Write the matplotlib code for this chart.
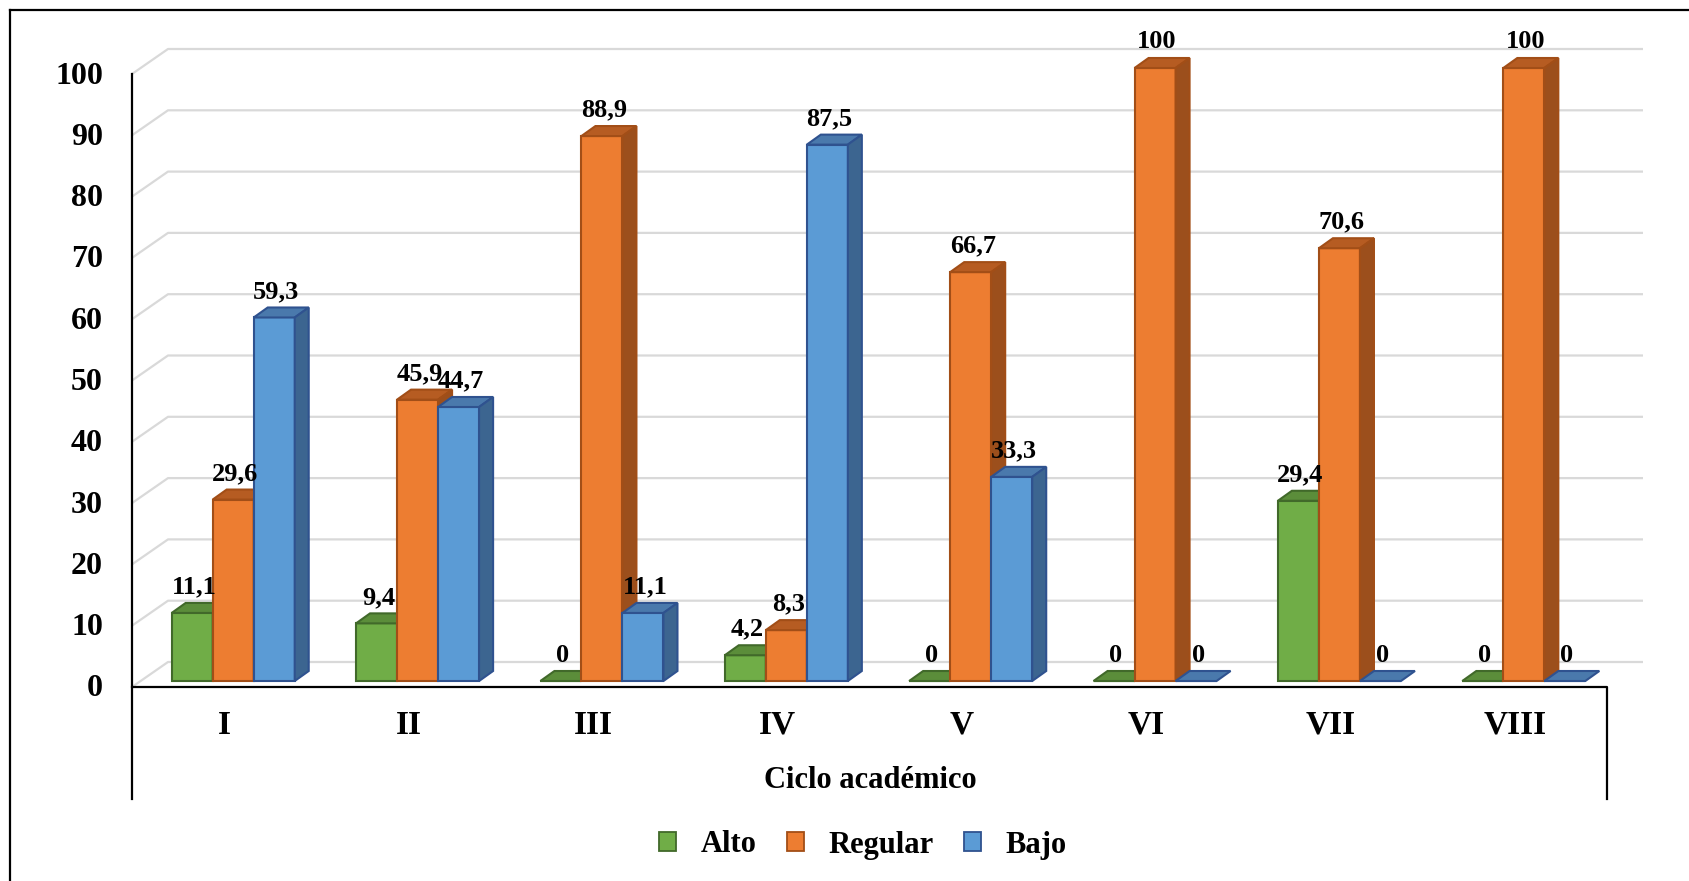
import numpy as np
import matplotlib
matplotlib.use("Agg")
import matplotlib.pyplot as plt
from matplotlib.patches import Polygon, Patch
from matplotlib.lines import Line2D
from matplotlib.transforms import ScaledTranslation

# data (percent per ciclo)
ciclos = ["I", "II", "III", "IV", "V", "VI", "VII", "VIII"]
alto = [11.1, 9.4, 0, 4.2, 0, 0, 29.4, 0]
regular = [29.6, 45.9, 88.9, 8.3, 66.7, 100, 70.6, 100]
bajo = [59.3, 44.7, 11.1, 87.5, 33.3, 0, 0, 0]
series_names = ["Alto", "Regular", "Bajo"]
y_ticks = list(range(0, 101, 10))

# front / top / side / edge colours per series (Excel 3D look)
styles = [
    ("#70AD47", "#5B8D3A", "#4E7B31", "#41692A"),
    ("#ED7D31", "#B65C22", "#9C4F1C", "#A24E17"),
    ("#5B9BD5", "#4A79AC", "#3C6590", "#2F528F"),
]

plt.rcParams["font.family"] = ["Liberation Serif", "DejaVu Serif"]
plt.rcParams["font.weight"] = "bold"

W, H = 1689, 881
fig = plt.figure(figsize=(W / 100, H / 100), dpi=100)
ax = fig.add_axes([141 / W, (H - 681) / H, 1475 / W, 613 / H])
ax.set_xlim(-0.5, len(ciclos) - 0.5)
ax.set_ylim(0, 100)
ax.axis("off")

# pixel offsets of the pseudo 3D box, relative to the bar plane
BAR_D = (14, 10)     # bar depth
BACK = (27, 19)      # back wall
FRONT = (-9, -6)     # front edge of the floor


def shift(xs, ys, d):
    pts = ax.transData.transform(np.column_stack([xs, ys]))
    pts = pts + np.array(d, dtype=float)
    return ax.transData.inverted().transform(pts)


x0, x1 = -0.5, len(ciclos) - 0.5

# gridlines on the back wall and the left side wall
for v in y_ticks:
    f = shift([x0], [v], FRONT)[0]
    b = shift([x0, x1], [v, v], BACK)
    ax.plot([f[0], b[0, 0], b[1, 0]], [f[1], b[0, 1], b[1, 1]],
            color="#D9D9D9", lw=1.6, zorder=0, clip_on=False,
            solid_capstyle="butt")

# bars: front face via ax.bar, top and side faces derived from it
x = np.arange(len(ciclos))
width = 0.2225
all_series = [alto, regular, bajo]
for gi in range(len(ciclos)):
    for si, vals in enumerate(all_series):
        front, top, side, edge = styles[si]
        xc = x[gi] + (si - 1) * width
        h = vals[gi]
        z = 2 + gi * 3 + si
        rect = ax.bar(xc, h, width=width, color=front, edgecolor=edge,
                      linewidth=1.5, zorder=z, clip_on=False)[0]
        xl, xr = rect.get_x(), rect.get_x() + rect.get_width()
        tb = shift([xr, xl], [h, h], BAR_D)
        top_poly = [(xl, h), (xr, h), tuple(tb[0]), tuple(tb[1])]
        ax.add_patch(Polygon(top_poly, closed=True, facecolor=top, edgecolor=edge,
                             linewidth=1.5, zorder=z, clip_on=False))
        if h > 0:
            sb = shift([xr, xr], [h, 0], BAR_D)
            side_poly = [(xr, 0), (xr, h), tuple(sb[0]), tuple(sb[1])]
            ax.add_patch(Polygon(side_poly, closed=True, facecolor=side,
                                 edgecolor=edge, linewidth=1.5,
                                 zorder=z, clip_on=False))
        label = ("%g" % h).replace(".", ",")
        ax.annotate(label, (xc, h), xytext=(2, 26), textcoords="offset pixels",
                    ha="center", va="center", fontsize=19, fontweight="bold",
                    zorder=100, annotation_clip=False)

# axis frame: y axis line, floor front edge and the category box
fl = shift([x0, x1], [0, 0], FRONT)
ftop = shift([x0], [100], FRONT)[0]
box_drop = 112
fb = shift([x0, x1], [0, 0], (FRONT[0], FRONT[1] - box_drop))
ax.plot([ftop[0], fb[0, 0]], [ftop[1], fb[0, 1]], color="black", lw=1.6,
        clip_on=False, zorder=50)
ax.plot([fl[0, 0], fl[1, 0], fb[1, 0]], [fl[0, 1], fl[1, 1], fb[1, 1]],
        color="black", lw=1.6, clip_on=False, zorder=50)

# y tick labels, placed in front of the side wall
ytrans = ax.transData + ScaledTranslation(-38 / 100, -8 / 100, fig.dpi_scale_trans)
for v in y_ticks:
    ax.text(x0, v, str(v), transform=ytrans, ha="right", va="center",
            fontsize=23, fontweight="bold")

# category labels
xtrans = ax.transData + ScaledTranslation(-9 / 100, -44 / 100, fig.dpi_scale_trans)
for i, c in enumerate(ciclos):
    ax.text(x[i], 0, c, transform=xtrans, ha="center", va="center",
            fontsize=24, fontweight="bold")

fig.text(870 / W, 1 - 781 / H, "Ciclo académico", ha="center", va="center",
         fontsize=22, fontweight="bold")

handles = [Patch(facecolor=s[0], edgecolor=s[3], linewidth=1.3) for s in styles]
fig.legend(handles, series_names, loc="center", bbox_to_anchor=(863 / W, 1 - 845 / H),
           ncol=3, frameon=False, handlelength=0.55, handleheight=0.55,
           handletextpad=0.8, columnspacing=1.0,
           prop={"family": "Liberation Serif", "weight": "bold", "size": 22})

# outer chart border (top and left visible)
fig.add_artist(Line2D([10 / W, 1], [1 - 10 / H, 1 - 10 / H], color="black", lw=1.6,
                      transform=fig.transFigure))
fig.add_artist(Line2D([10 / W, 10 / W], [0, 1 - 10 / H], color="black", lw=1.6,
                      transform=fig.transFigure))

fig.savefig("out.png", dpi=100, facecolor="white")
plt.close(fig)
